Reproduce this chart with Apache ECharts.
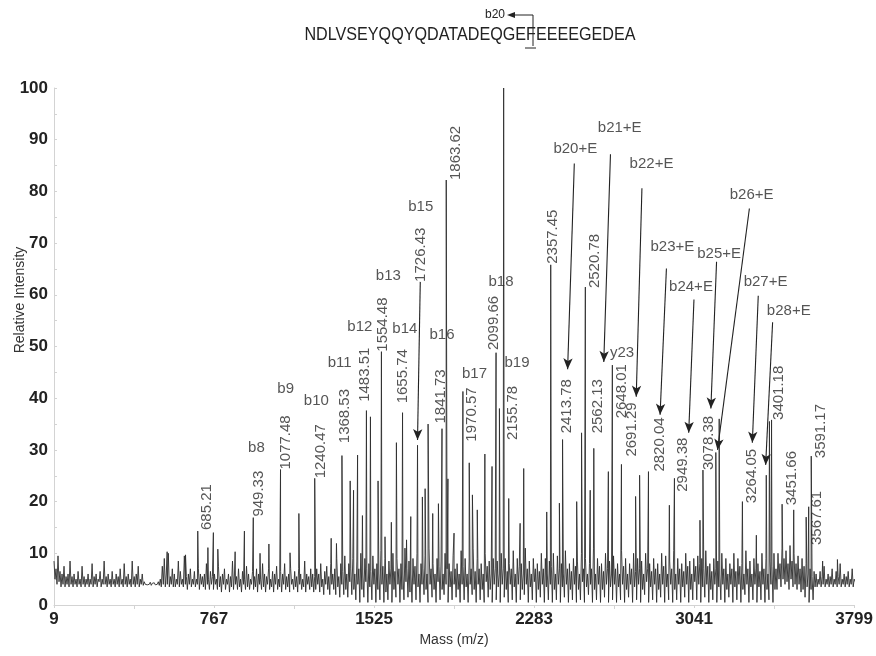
<!DOCTYPE html>
<html><head><meta charset="utf-8">
<script src="https://cdn.jsdelivr.net/npm/echarts@6/dist/echarts.min.js"></script>
<style>html,body{margin:0;padding:0;background:#fff}#c{width:876px;height:656px}</style>
</head><body><div id="c"></div>
<script>
// ---------- data ----------
const xTickLabels = [9, 767, 1525, 2283, 3041, 3799];
const yTickLabels = [0, 10, 20, 30, 40, 50, 60, 70, 80, 90, 100];
const sequence = 'NDLVSEYQQYQDATADEQGEFEEEEGEDEA';

// baseline noise, read every 4.75 m/z from 9
const noiseStart = 9, noiseStep = 4.75;
const noise = [
8.5,5,7,4,9.5,4.5,6.5,3.5,6,4,7.5,3.5,5.5,4,6,3.5,8.5,4,5.5,3.5,
6,4,5,3.5,6.5,4,5,3.5,7.5,4,5.5,3.5,5,4,6,3.5,5,4,8,3.5,
5.5,4,6,3.5,5,4.5,6.5,3.5,5,4,8.5,4,5.5,3.5,6,4,5,3.5,6.5,4,
5,3.5,6,4,5.5,3.5,7,4,5,3.5,8,4,5.5,3.5,6,4,5,3.5,8.5,4,
5.5,3.5,6,4,7.5,3.5,5,4,6,3.8,4.5,4,4.3,3.9,4.2,4,4.4,3.8,4.2,4,
4.3,3.9,4.1,4,4.5,3.8,5,3.5,7.5,4,9,3.5,6,4,10,3.5,5.5,4,7,3.5,
6,3.5,5,4,8.5,3.5,6.5,4,5,3.5,9.5,4,5.5,3,6,4,7,3.5,5,4,
6.5,3.5,5,4,7,3,6,4,5.5,3.5,6,3,8,4,5,3,6.5,4,5.5,3,
6,4,5,3,7.5,3.5,5.5,2.5,6,4,7,3,5,4,6,2.5,5.5,3.5,8.5,3,
6,4,5.5,3,7,3.5,5,2.5,6.5,4,5,3,7.5,3.5,6,3,5,4,6.5,3,
5.5,3.5,7,2.5,6,4,5,3,8,3.5,6,2.5,5.5,4,7,3,5,3.5,6.5,2.5,
6,4,7.5,3,5,3.5,6.5,2.5,6,4,8,3,5.5,3.5,6,2.5,7,4,5,3,
6.5,3.5,5.5,2.5,7,4,6,3,5,3.5,8.5,2.5,6,4,5.5,3,7,3.5,6,2.5,
5.5,3,7,4,6,2.5,8,3.5,5,2,6.5,4,7.5,3,5.5,2,8,4,6,3,
7,2,9,3.5,5.5,1.5,8,4,6.5,2,9.5,3,6,1.5,8,4.5,7,2,9,3,
6,1,8.5,4,7,0.5,10,3,6,1.5,9,4.5,7,0.5,8,3.5,6.5,1,9.5,4,
7,0.5,8,3,6,1,10.5,4,7.5,0.5,9,2.5,6,1,8.5,4,7,0.5,10,3,
6.5,1.5,9,4,7,0.5,8,3,6,1,11,4.5,7,1.5,8.5,2.5,6,0.5,9,4,
7.5,1,10,3.5,6,0.5,8,4,7,2,9.5,3,6,0.5,11,4,7,1.5,8,3,
6,0.5,9,4.5,7.5,1,8.5,3,6,2,10,4,7,0.5,8,3.5,6.5,1,9.5,4,
7,1.5,8,3,6,0.5,10.5,4,7.5,1,9,3.5,6,0.5,8.5,4,7,2,11,3,
6.5,0.5,9,4,7,1,8,3,6,0.5,10,4.5,7.5,1.5,8.5,3,6,0.5,9,4,
7,1,8.5,3.5,6,0.5,10,4,7,1.5,9,3,6.5,0.5,8,4,7,1,10.5,3.5,
6,0.5,9,4,7.5,1,8,3,6,2,11,4,7,0.5,8.5,3.5,6,1,9,4.5,
7,0.5,8,3,6.5,1.5,10,4,7,0.5,9,3.5,6,1,8.5,4,7.5,0.5,10,3,
6,1,9.5,4,7,0.5,8,3.5,6,1.5,10.5,4,7,0.5,8,3,6.5,1,9,4,
7.5,0.5,8.5,3,6,1,10,4.5,7,0.5,9,3.5,6,2,8,4,7,0.5,11,3,
6,1,9,4,7.5,0.5,8,3,6.5,1.5,10,4,7,0.5,8.5,3.5,6,1,9.5,4,
7,0.5,8,3.5,6,1,10.5,4,7.5,0.5,9,3,6,1.5,8,4,7,0.5,10,3.5,
6.5,1,9,4,7,0.5,8.5,3,6,2,10,4.5,7,0.5,8,3.5,6.5,1,9,4,
7,0.5,8,3,6,1.5,10,4,7.5,0.5,9.5,3.5,6,1,8.5,4,7,0.5,10.5,3,
6,1,9,4,7,0.5,8,3.5,6.5,1.5,10,4,7.5,0.5,8.5,3,6,1,9,4.5,
7.5,1,9.5,4,8,0.5,9,3.5,7,1.5,10.5,4,7.5,0.5,8,3,6.5,1,9,4,
7,0.5,8.5,3.5,6,1,10,4,7,0.5,9,3,6,1.5,8,4,7,0.5,10,3.5,
6.5,1,9,4,7.5,0.5,8,3,6,2,10.5,4,7,0.5,8.5,3.5,6,1,9,4,
7,0.5,8,3.5,6.5,1,10,4,7,0.5,9,3,6,1,8.5,4,7.5,0.5,10,3,
7,3,10,5,8,3.5,11,5,9,4,10.5,4.5,8,3,11.5,5,8.5,3.5,10,4,
8,3,9.5,4,7,2.5,9,3,7.5,1.5,8,3.5,6,0.5,7,3,5.5,1,6.5,3.5,
6,3.5,5,4,6.5,3.5,5.5,4,7.5,3.5,5,4,6,3.5,5.5,4,7,3.5,5,4,
6.5,3.5,5.5,4,8,3.5,5,4,6,3.5,5.5,4,6.5,3.5,5,4,7,3.5,5,4.5
];

// peaks (m/z, relative intensity)
const peakMz  = [545,632,690,738,764,785,867,911,953,985,1027,1082,1127,1169,1244,1322,1347,1373,1412,1428,1447,1470,1489,1508,1544,1560,1577,1607,1631,1660,1679,1699,1731,1754,1767,1781,1803,1830,1847,1867,1875,1904,1946,1976,1991,2014,2050,2084,2103,2119,2139,2163,2217,2234,2343,2362,2403,2418,2485,2508,2526,2549,2566,2635,2654,2697,2764,2783,2825,2924,2948,3069,3083,3144,3160,3270,3336,3383,3398,3408,3458,3513,3572,3584,3596,3650,3720];
const peakInt = [10.3,9.7,14.3,11.1,14.0,10.8,10.3,14.3,16.9,10.0,11.8,26.2,10.1,17.7,24.5,12.9,11.9,28.9,24.0,22.2,29.0,17.3,37.6,36.4,24.0,49.0,13.2,16.0,31.4,37.2,12.6,17.1,30.9,20.9,22.5,35.0,17.7,19.6,34.1,82.2,24.4,13.9,41.3,27.5,21.3,18.4,29.2,26.8,48.8,38.0,100,20.6,15.8,26.4,18.0,65.8,19.7,32.0,20.0,33.3,61.5,22.2,30.3,25.8,46.4,27.2,21.0,25.1,25.8,19.3,24.5,16.4,26.1,29.5,36.0,20.0,13.5,25.1,35.5,35.8,19.5,18.4,17.0,19.0,28.8,8.5,8.8];

// mass labels: text and the data point where the (rotated) text starts
const massLabelText = ['685.21','949.33','1077.48','1240.47','1368.53','1483.51','1554.48','1655.74','1726.43','1841.73','1863.62','1970.57','2099.66','2155.78','2357.45','2413.78','2520.78','2562.13','2648.01','2691.29','2820.04','2949.38','3078.38','3264.05','3401.18','3451.66','3567.61','3591.17'];
const massLabelMz  = [733.6,977.1,1109,1272.5,1385.5,1479.8,1566,1660,1746.4,1840.6,1911.3,1990,2092,2183,2370,2437.5,2571,2583.6,2696.6,2747,2877,2987,3112.6,3313.8,3442,3505.5,3623,3643.6];
const massLabelInt = [14.5,17.1,26.2,24.5,31.3,39.3,49.0,39.0,62.5,35.1,82.2,31.6,49.3,31.9,66.0,33.2,61.3,33.2,36.1,28.7,25.8,21.9,26.1,19.7,35.8,19.3,11.6,28.4];

// fragment ion labels
const ionText = ['b8','b9','b10','b11','b12','b13','b14','b15','b16','b17','b18','b19','y23','b20+E','b21+E','b22+E','b23+E','b24+E','b25+E','b26+E','b27+E','b28+E'];
const ionMz   = [967.7,1106.6,1251.8,1362,1457.6,1592.9,1671,1746.4,1847,2000.8,2126.6,2202,2699.8,2478.5,2688.6,2839.4,2938.3,3026.4,3159.7,3313.8,3379.7,3489.5];
const ionInt  = [30.3,41.9,39.5,46.9,53.8,63.7,53.5,77.0,52.2,44.8,62.5,46.8,48.8,88.3,92.2,85.4,69.2,61.5,67.9,79.3,62.5,56.9];

// arrows: from (mz, int) to (mz, int)
const arrowFrom = [[1744,62.5],[2473.7,85.4],[2645,87.2],[2794,80.6],[2910,65.1],[3040.5,59.1],[3147.5,66.4],[3303,76.7],[3345,59.8],[3413,54.7]];
const arrowTo   = [[1731,31.9],[2442,45.6],[2613.3,47.0],[2767,40.3],[2880,36.8],[3015.6,33.3],[3120.6,38.0],[3152,30.0],[3317,31.4],[3380,27.1]];

// ---------- chart ----------
const FONT = '"Liberation Sans", Arial, Helvetica, sans-serif';
const x0 = xTickLabels[0];
const X = m => m - x0;
const xStep = xTickLabels[1] - xTickLabels[0];

const spectrum = [];
noise.forEach((v, i) => spectrum.push([X(noiseStart + i * noiseStep), v]));
peakMz.forEach((m, i) => spectrum.push([X(m), peakInt[i]]));
spectrum.sort((a, b) => a[0] - b[0]);

const massLabelData = massLabelText.map((t, i) => [X(massLabelMz[i]), massLabelInt[i], t]);
const ionData = ionText.map((t, i) => [X(ionMz[i]), ionInt[i], t]);
const arrowData = arrowFrom.map((f, i) => [
  {coord: [X(f[0]), f[1]]},
  {coord: [X(arrowTo[i][0]), arrowTo[i][1]]}
]);

const axisGray = '#d3d3d3';
const chart = echarts.init(document.getElementById('c'));
chart.setOption({
  animation: false,
  backgroundColor: '#fff',
  grid: {left: 54, right: 17, top: 88, bottom: 51},
  xAxis: {
    type: 'value', min: 0, max: X(xTickLabels[xTickLabels.length - 1]), interval: xStep,
    axisLine: {show: true, lineStyle: {color: axisGray}},
    axisTick: {show: true, length: 3, lineStyle: {color: axisGray}},
    minorTick: {show: true, splitNumber: 2, length: 4, lineStyle: {color: axisGray}},
    splitLine: {show: false},
    axisLabel: {
      formatter: v => String(xTickLabels[Math.round(v / xStep)]),
      fontWeight: 'bold', fontSize: 17, color: '#222', margin: 6, fontFamily: FONT
    },
    name: 'Mass (m/z)', nameLocation: 'middle', nameGap: 28,
    nameTextStyle: {fontSize: 14, color: '#333', fontFamily: FONT}
  },
  yAxis: {
    type: 'value', min: 0, max: 100, interval: 10,
    axisLine: {show: true, lineStyle: {color: axisGray}},
    axisTick: {show: true, inside: true, length: 3, lineStyle: {color: axisGray}},
    minorTick: {show: true, splitNumber: 2, length: 3, lineStyle: {color: axisGray}},
    splitLine: {show: false},
    axisLabel: {
      formatter: v => String(yTickLabels[Math.round(v / 10)]),
      fontWeight: 'bold', fontSize: 17, color: '#222', margin: 6, fontFamily: FONT
    }
  },
  series: [
    {
      type: 'line', data: spectrum, symbol: 'none', silent: true,
      lineStyle: {color: '#2e2e2e', width: 0.9}, z: 2
    },
    {
      type: 'scatter', data: massLabelData, symbolSize: 1, silent: true,
      itemStyle: {color: 'rgba(0,0,0,0)'},
      label: {
        show: true, formatter: p => p.data[2], position: 'inside',
        rotate: 90, align: 'left', verticalAlign: 'middle',
        fontSize: 15, color: '#2a2a2a', fontFamily: FONT
      }, z: 3
    },
    {
      type: 'scatter', data: ionData, symbolSize: 1, silent: true,
      itemStyle: {color: 'rgba(0,0,0,0)'},
      label: {
        show: true, formatter: p => p.data[2], position: 'inside',
        align: 'center', verticalAlign: 'middle',
        fontSize: 15, color: '#2a2a2a', fontFamily: FONT
      },
      markLine: {
        silent: true, animation: false,
        symbol: ['none', 'arrow'], symbolSize: [7, 11],
        label: {show: false},
        lineStyle: {color: '#222', width: 1.1, type: 'solid'},
        data: arrowData
      }, z: 3
    }
  ],
  graphic: [
    {type: 'text', x: 470, y: 35, scaleX: 0.85, style: {
      text: sequence, font: '19px ' + FONT, fill: '#222',
      textAlign: 'center', textVerticalAlign: 'middle'}},
    {type: 'text', x: 495, y: 15, style: {
      text: 'b20', font: '12px ' + FONT, fill: '#222',
      textAlign: 'center', textVerticalAlign: 'middle'}},
    {type: 'polyline', shape: {points: [[533, 46], [533, 15], [513, 15]]},
      style: {stroke: '#222', lineWidth: 1, fill: null}},
    {type: 'polygon', shape: {points: [[507, 15], [515, 12], [515, 18]]},
      style: {fill: '#222'}},
    {type: 'line', shape: {x1: 525, y1: 48, x2: 536, y2: 48},
      style: {stroke: '#222', lineWidth: 1}},
    {type: 'text', x: 20, y: 300, rotation: Math.PI / 2, style: {
      text: 'Relative Intensity', font: '14px ' + FONT, fill: '#333',
      textAlign: 'center', textVerticalAlign: 'middle'}}
  ]
});
</script>
</body></html>
